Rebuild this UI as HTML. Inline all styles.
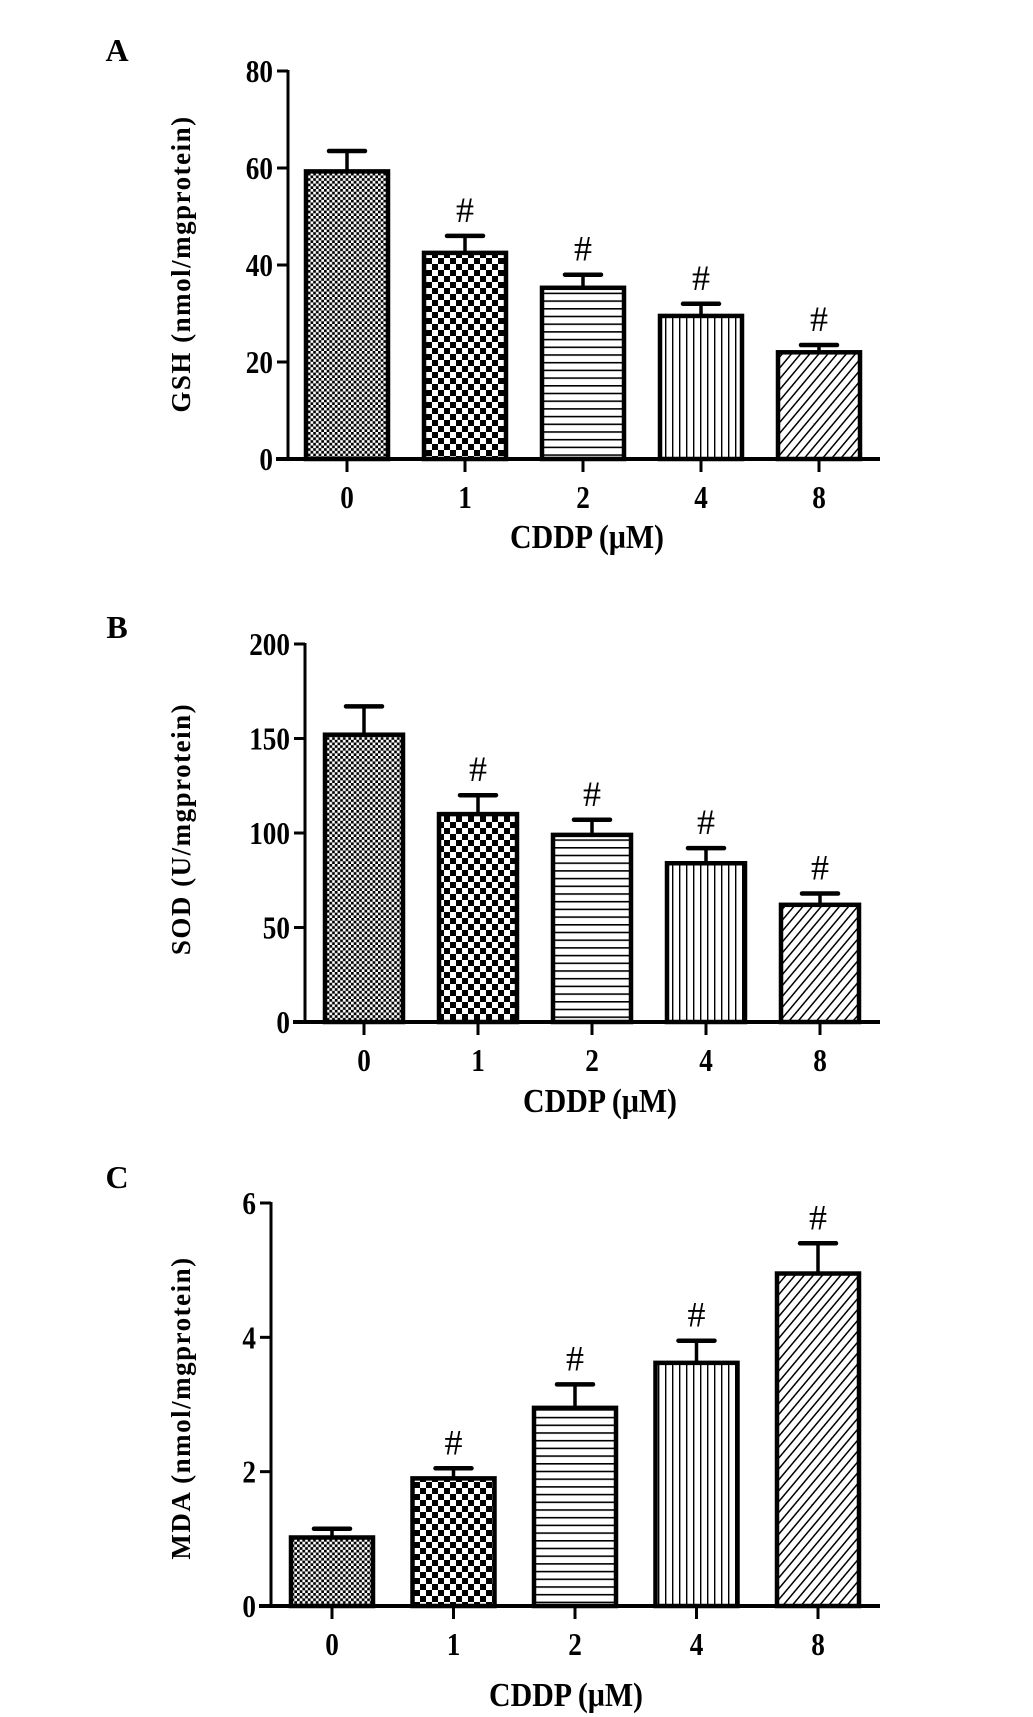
<!DOCTYPE html>
<html><head><meta charset="utf-8"><style>
html,body{margin:0;padding:0;background:#fff;width:1033px;height:1717px;overflow:hidden}
svg{display:block}
text{font-family:"Liberation Serif",serif;font-weight:bold;fill:#000}
</style></head><body>
<svg id="fig" width="1033" height="1717" viewBox="0 0 1033 1717">
<defs>
<pattern id="p0" width="5.4" height="5.4" patternUnits="userSpaceOnUse"><rect width="5.4" height="5.4" fill="#fff"/><rect width="2.7" height="2.7" fill="#000"/><rect x="2.7" y="2.7" width="2.7" height="2.7" fill="#000"/></pattern>
<pattern id="p1" width="12" height="12" patternUnits="userSpaceOnUse"><rect width="12" height="12" fill="#fff"/><rect width="6" height="6" fill="#000"/><rect x="6" y="6" width="6" height="6" fill="#000"/></pattern>
<pattern id="p2" width="10" height="7.7" patternUnits="userSpaceOnUse"><rect width="10" height="7.7" fill="#fff"/><rect y="0" width="10" height="1.6" fill="#000"/></pattern>
<pattern id="p3" width="7" height="10" patternUnits="userSpaceOnUse"><rect width="7" height="10" fill="#fff"/><rect x="0" width="1.4" height="10" fill="#000"/></pattern>
<pattern id="p4" width="7" height="7" patternUnits="userSpaceOnUse" patternTransform="rotate(40)"><rect width="7" height="7" fill="#fff"/><rect width="1.5" height="7" fill="#000"/></pattern>
</defs>
</svg>
<script>
const categories = ["0","1","2","4","8"];
const gshValues = [59.3, 42.5, 35.3, 29.5, 22.0];
const gshErrors = [63.5, 46.0, 38.0, 32.0, 23.5];
const gshTicks = [0, 20, 40, 60, 80];
const sodValues = [152, 110, 99, 84, 62];
const sodErrors = [167, 120, 107, 92, 68];
const sodTicks = [0, 50, 100, 150, 200];
const mdaValues = [1.02, 1.9, 2.95, 3.62, 4.95];
const mdaErrors = [1.15, 2.05, 3.3, 3.95, 5.4];
const mdaTicks = [0, 2, 4, 6];
const sig = [false, true, true, true, true];

const NS = "http://www.w3.org/2000/svg";
const svg = document.getElementById("fig");
function mk(tag, attrs, parent) {
  const e = document.createElementNS(NS, tag);
  for (const k in attrs) e.setAttribute(k, attrs[k]);
  (parent || svg).appendChild(e);
  return e;
}

const panels = [
  {id:"a", letter:"A", ly:50, axX:288, yTop:71, y0:459, xEnd:880, barStart:306, step:118, bw:82, max:80, ticks:gshTicks, vals:gshValues, errs:gshErrors, title:"GSH (nmol/mgprotein)", tcy:264, cddpY:536, cddpX:587},
  {id:"b", letter:"B", ly:627, axX:305, yTop:644, y0:1022, xEnd:880, barStart:325, step:114, bw:78, max:200, ticks:sodTicks, vals:sodValues, errs:sodErrors, title:"SOD (U/mgprotein)", tcy:829, cddpY:1100, cddpX:600},
  {id:"c", letter:"C", ly:1177, axX:271, yTop:1203, y0:1606, xEnd:880, barStart:291, step:121.5, bw:82, max:6, ticks:mdaTicks, vals:mdaValues, errs:mdaErrors, title:"MDA (nmol/mgprotein)", tcy:1408, cddpY:1694, cddpX:566}
];

function condensed(parent, x, y, size, anchor, str, sx) {
  const t = mk("text", {x:0, y:0, "font-size":size, "text-anchor":anchor, transform:"translate(" + x + "," + y + ") scale(" + sx + ",1)"}, parent);
  t.textContent = str;
  return t;
}

panels.forEach(P => {
  const g = mk("g", {});
  
  
  const yS = v => P.y0 - (v / P.max) * (P.y0 - P.yTop);
  const xS = i => P.barStart + i * P.step;

  const lt = mk("text", {x:117, y:P.ly + 11, "font-size":32, "text-anchor":"middle"}, g);
  lt.textContent = P.letter;
  
  

  P.vals.forEach((v, i) => {
    const x = xS(i), cx = x + P.bw / 2;
    const e = mk("line", {x1:cx, x2:cx, y1:yS(v), y2:yS(P.errs[i]), stroke:"#000", "stroke-width":3.5}, g);
    
    
    const cap = mk("line", {x1:cx - 18, x2:cx + 18, y1:yS(P.errs[i]), y2:yS(P.errs[i]), stroke:"#000", "stroke-width":4.5, "stroke-linecap":"round"}, g);
    
    
    const r = mk("rect", {x:x, y:yS(v), width:P.bw, height:P.y0 - yS(v), fill:"url(#p" + i + ")", stroke:"#000", "stroke-width":4.5}, g);
    
    
    if (sig[i]) {
      const h = mk("text", {x:cx, y:yS(P.errs[i]) - 14, "font-size":36, "text-anchor":"middle"}, g);
      h.setAttribute("style", "font-weight:normal");
      h.textContent = "#";
      
      
    }
    const tk = mk("line", {x1:cx, x2:cx, y1:P.y0, y2:P.y0 + 13, stroke:"#000", "stroke-width":3}, g);
    
    
    const tl = condensed(g, cx, P.y0 + 49, 32, "middle", categories[i], 0.85);
    
    
  });

  const ya = mk("line", {x1:P.axX, x2:P.axX, y1:P.yTop - 1, y2:P.y0, stroke:"#000", "stroke-width":3}, g);
  
  
  const xa = mk("line", {x1:P.axX - 12, x2:P.xEnd, y1:P.y0, y2:P.y0, stroke:"#000", "stroke-width":4}, g);
  
  
  P.ticks.forEach(t => {
    const y = yS(t);
    const tk = mk("line", {x1:P.axX - 11, x2:P.axX, y1:y, y2:y, stroke:"#000", "stroke-width":3}, g);
    
    
    const tl = condensed(g, P.axX - 15, y + 11, 32, "end", String(t), 0.85);
    
    
  });

  const yt = mk("text", {x:0, y:0, "font-size":27, "letter-spacing":"1.5", "text-anchor":"middle", transform:"translate(190," + P.tcy + ") rotate(-90)"}, g);
  yt.textContent = P.title;
  
  
  const xt = condensed(g, P.cddpX, P.cddpY + 12, 34, "middle", "CDDP (\u03bcM)", 0.88);
  
  
});
</script>
</body></html>
